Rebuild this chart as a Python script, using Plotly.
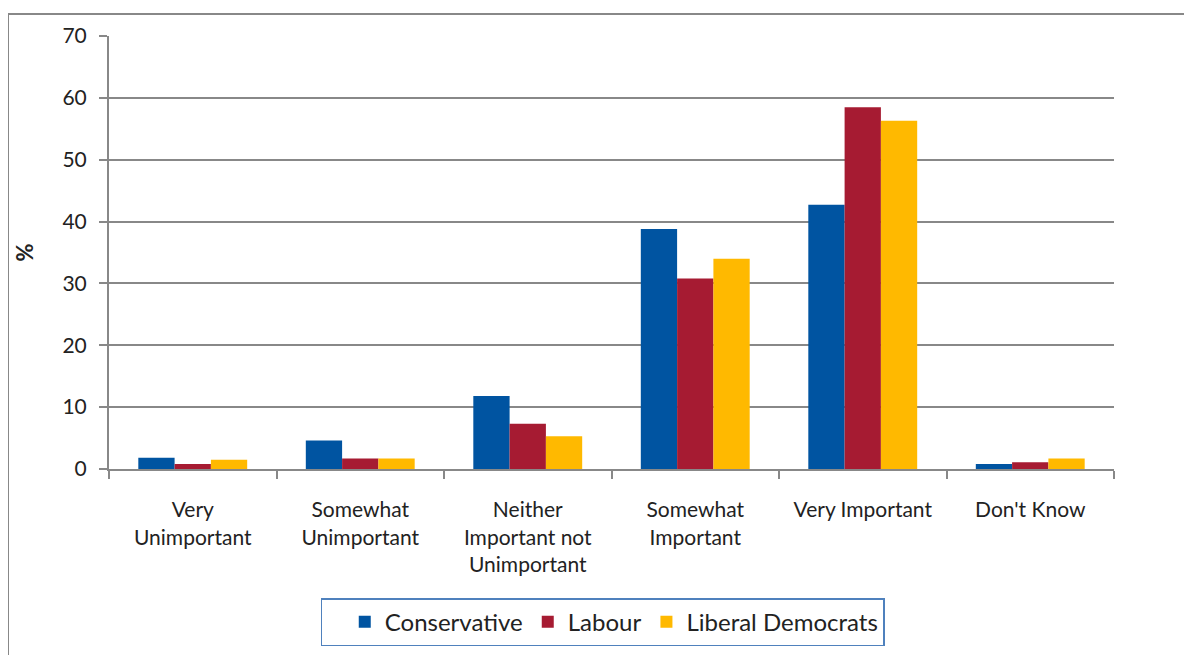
import plotly.graph_objects as go

categories = ["Very<br>Unimportant", "Somewhat<br>Unimportant", "Neither<br>Important not<br>Unimportant",
              "Somewhat<br>Important", "Very Important", "Don't Know"]
conservative = [1.8, 4.6, 11.8, 38.8, 42.7, 0.8]
labour = [0.8, 1.7, 7.3, 30.8, 58.5, 1.1]
libdem = [1.5, 1.7, 5.3, 34.0, 56.3, 1.7]
y_ticks = [0, 10, 20, 30, 40, 50, 60, 70]

FONT = "Lato"
fig = go.Figure()
for name, vals, col in [("Conservative", conservative, "#0054A1"),
                        ("Labour", labour, "#A61B32"),
                        ("Liberal Democrats", libdem, "#FFB900")]:
    fig.add_trace(go.Bar(x=categories, y=vals, name=name, marker=dict(color=col, line=dict(width=0))))

fig.update_layout(
    width=1184, height=647,
    margin=dict(l=101, r=78, t=28, b=186, autoexpand=False),
    paper_bgcolor="white", plot_bgcolor="white",
    barmode="group", bargap=0.35, bargroupgap=0,
    font=dict(family=FONT, size=21, color="#222222"),
    showlegend=True,
    legend=dict(orientation="h", x=0.4915, xanchor="center", y=-0.298, yanchor="top",
                bordercolor="#4F81BD", borderwidth=1.5, font=dict(size=24, color="#222222"),
                itemwidth=30, tracegroupgap=0, traceorder="normal",
                title=dict(text="\u00a0\u00a0", font=dict(size=24))),
    xaxis=dict(showline=True, linecolor="#888888", linewidth=2, ticks="outside", tickson="boundaries",
               ticklen=8, tickcolor="#888888", tickwidth=2, showgrid=False, automargin=False,
               tickfont=dict(size=21), ticklabelstandoff=21),
    yaxis=dict(range=[0, 70], tickvals=y_ticks, showline=True, linecolor="#888888", linewidth=2,
               ticks="outside", ticklen=8, tickcolor="#888888", tickwidth=2, automargin=False,
               showgrid=True, gridcolor="#888888", gridwidth=1.5, zeroline=False,
               tickfont=dict(size=21), ticklabelstandoff=8,
               title=dict(text="<b>%</b>", font=dict(size=22), standoff=23)),
    shapes=[
        dict(type="line", xref="paper", yref="paper", x0=-0.1005, x1=1.1, y0=1.0508, y1=1.0508,
             line=dict(color="#888888", width=2)),
        dict(type="line", xref="paper", yref="paper", x0=-0.1005, x1=-0.1005, y0=1.0508, y1=-0.45,
             line=dict(color="#888888", width=2)),
    ],
)
fig.write_html("out.html")
